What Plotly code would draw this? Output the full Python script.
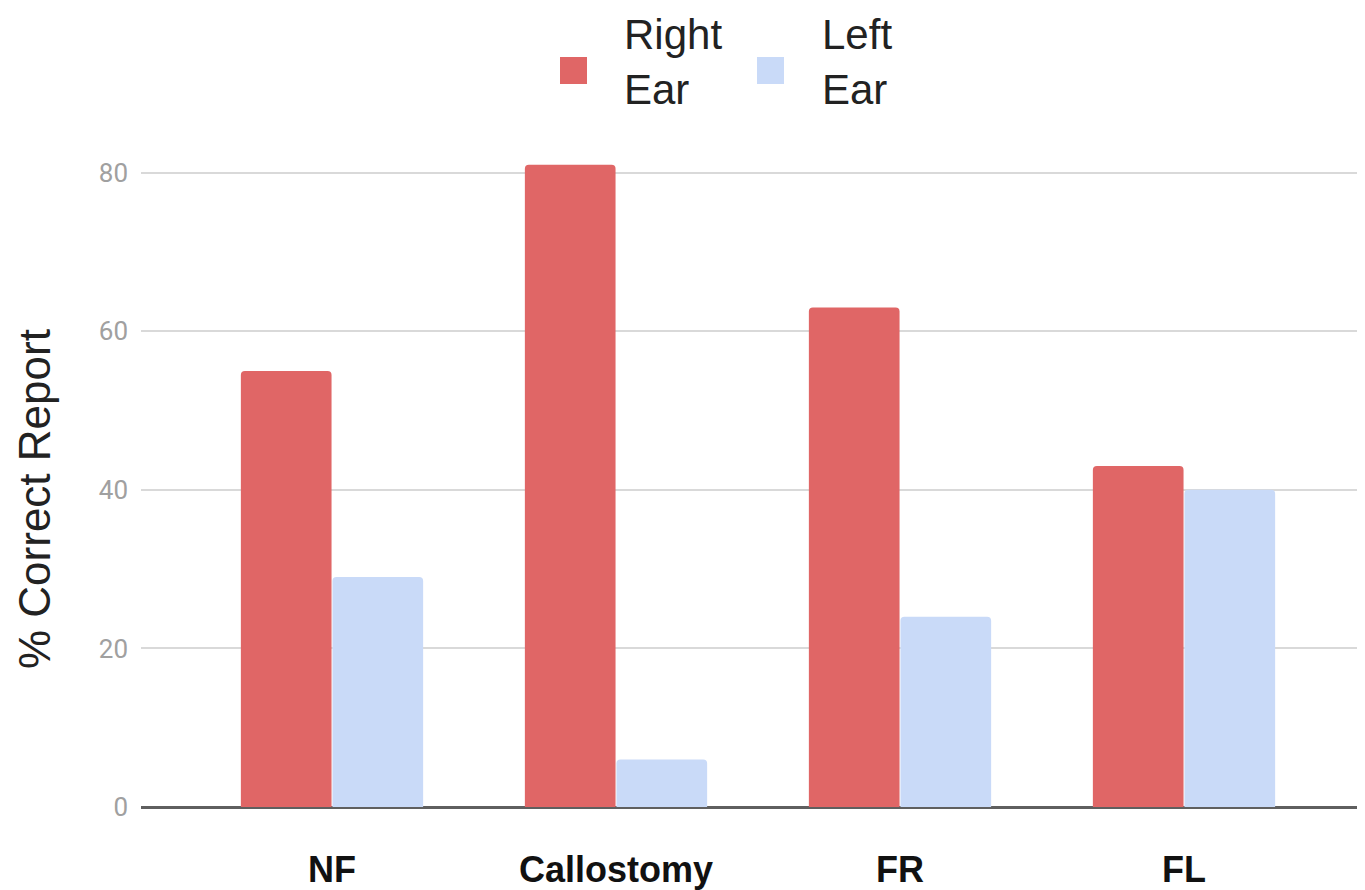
import plotly.graph_objects as go

categories = ["NF", "Callostomy", "FR", "FL"]
right_ear = [55, 81, 63, 43]
left_ear = [29, 6, 24, 40]
series_names = ["Right<br>Ear", "Left<br>Ear"]
y_title = "% Correct Report"
y_ticks = [0, 20, 40, 60, 80]

RED = "#e06666"
BLUE = "#c9daf8"

OFF = 8  # page body margin
W, H = 1365 - OFF, 890 - OFF
ML, MR, MT, MB = 141 - OFF, 0, 141 - OFF, 83
PW, PH = W - ML - MR, H - MT - MB
CAT_PX = 284.0       # pixels per category
FIRST_CENTER = 332   # page pixel of first group centre


def px_x(p):
    return (p - OFF - ML) / PW


def px_y(p):
    return (H - MB - (p - OFF)) / PH


fig = go.Figure()
fig.add_trace(go.Bar(x=categories, y=right_ear, name="Right Ear",
                     marker=dict(color=RED, line=dict(width=0)), showlegend=False))
fig.add_trace(go.Bar(x=categories, y=left_ear, name="Left Ear",
                     marker=dict(color=BLUE, line=dict(width=0)), showlegend=False))

# manual legend (large squares)
legend_items = [
    (series_names[0], RED, 560, 622),
    (series_names[1], BLUE, 757, 820),
]
for text, col, sq_x, tx in legend_items:
    fig.add_shape(type="rect", xref="paper", yref="paper",
                  x0=px_x(sq_x), x1=px_x(sq_x + 27), y0=px_y(84), y1=px_y(57),
                  fillcolor=col, line=dict(width=0), layer="above")
    fig.add_annotation(text=text, xref="paper", yref="paper",
                       x=px_x(tx), y=px_y(62), xanchor="left", yanchor="middle",
                       showarrow=False, align="left",
                       font=dict(family="Liberation Sans, Arial", size=42, color="#222222"))

# y-axis title placed as rotated annotation
fig.add_annotation(text=y_title, xref="paper", yref="paper",
                   x=px_x(34), y=px_y(499), xanchor="center", yanchor="middle",
                   textangle=-90, showarrow=False,
                   font=dict(family="Liberation Sans, Arial", size=44, color="#222222"))

x0_val = (ML + OFF - FIRST_CENTER) / CAT_PX
x1_val = x0_val + PW / CAT_PX

fig.update_layout(
    width=W, height=H,
    margin=dict(l=ML, r=MR, t=MT, b=MB, pad=0),
    paper_bgcolor="white", plot_bgcolor="white",
    barmode="group", bargap=0.355, bargroupgap=0.01,
    barcornerradius=4,
    showlegend=False,
    xaxis=dict(
        range=[x0_val, x1_val],
        showgrid=False, showline=False, ticks="",
        tickfont=dict(family="Liberation Sans, Arial", size=36, color="#111111", weight="bold"),
        ticklabelstandoff=38,
    ),
    yaxis=dict(
        range=[0, 84],
        tickvals=y_ticks,
        showgrid=True, gridcolor="#d9d9d9", gridwidth=1.5,
        zeroline=True, zerolinecolor="#5f5f5f", zerolinewidth=2.5,
        showline=False, ticks="",
        tickfont=dict(family="Roboto, Liberation Sans", size=26, color="#a0a0a0"),
        ticklabelstandoff=12,
    ),
)

fig.write_html("out.html")
